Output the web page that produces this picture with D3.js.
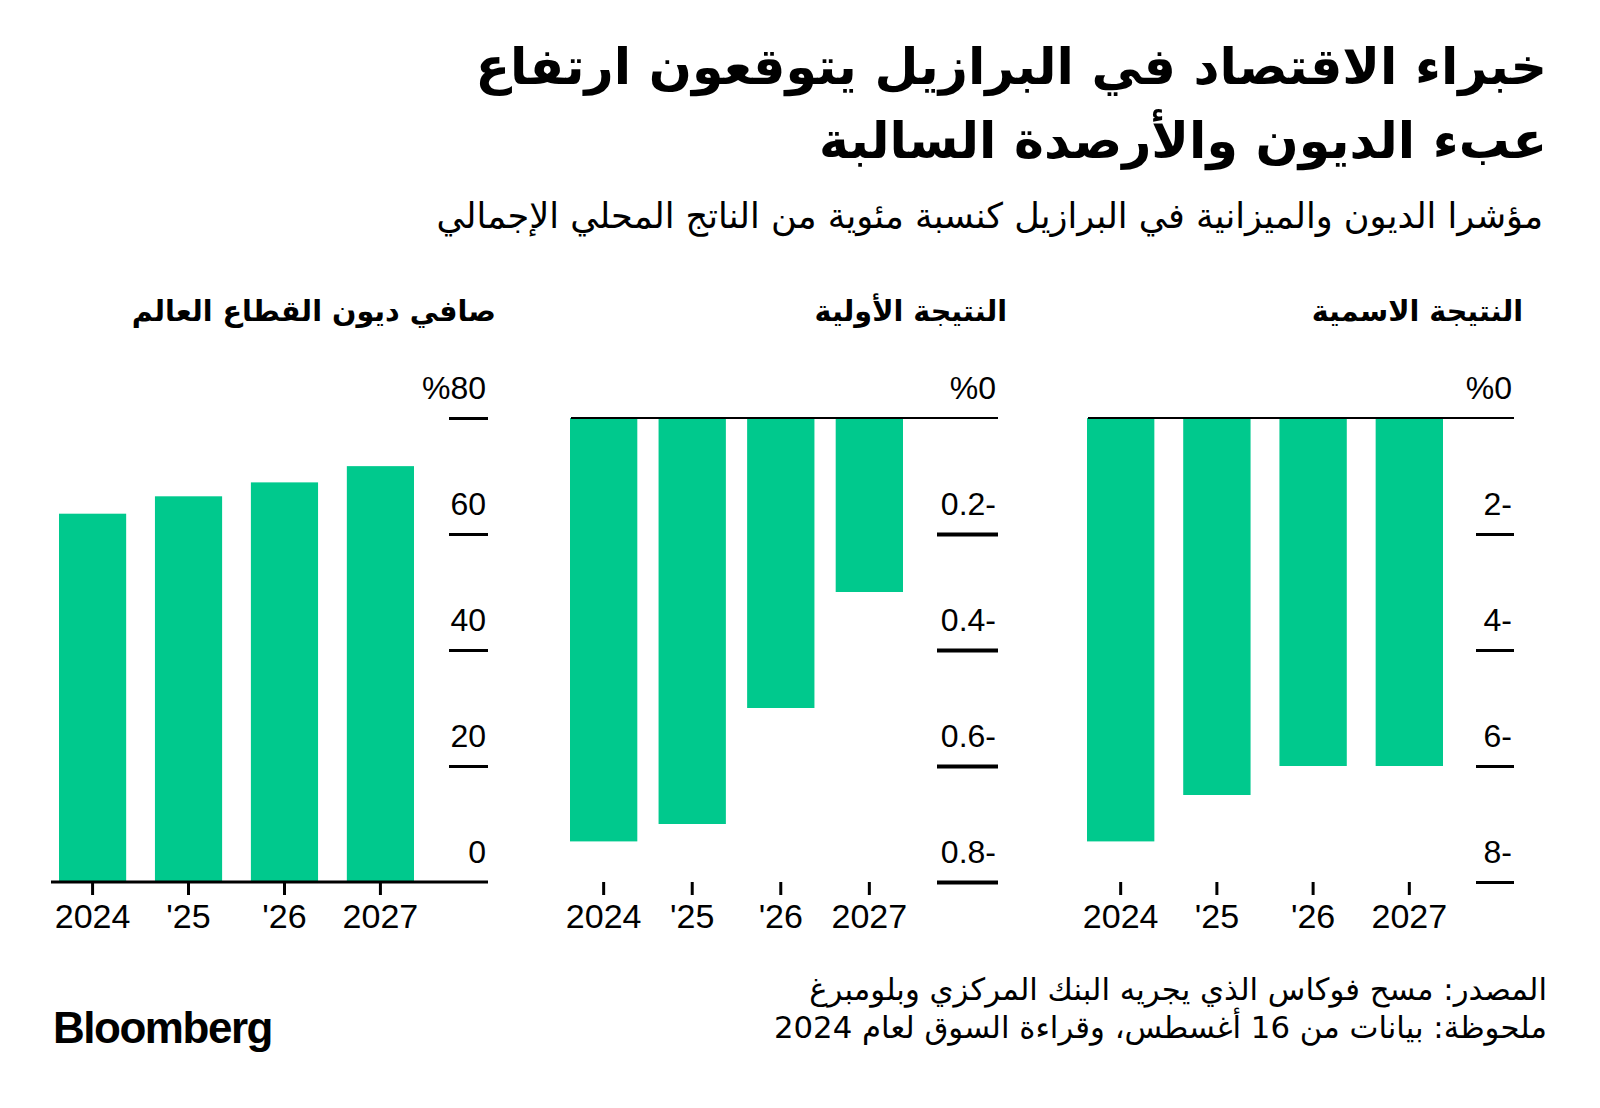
<!DOCTYPE html>
<html><head><meta charset="utf-8">
<script src="https://cdn.jsdelivr.net/npm/d3@7"></script>
<style>
html,body{margin:0;padding:0;background:#fff;}
svg{display:block;}
</style></head><body>
<svg id="chart" width="1600" height="1108"></svg>
<script>
// ---- data ----
const years = ["2024", "'25", "'26", "2027"];
const netDebt = [63.5, 66.5, 68.9, 71.7];
const primaryResult = [-0.73, -0.70, -0.50, -0.30];
const nominalResult = [-7.3, -6.5, -6.0, -6.0];
const debtTicks = [0, 20, 40, 60, 80];
const primaryTicks = [0, -0.2, -0.4, -0.6, -0.8];
const nominalTicks = [0, -2, -4, -6, -8];
const panelTitles = ["صافي ديون القطاع العالم", "النتيجة الأولية", "النتيجة الاسمية"];
const titleLines = ["خبراء الاقتصاد في البرازيل يتوقعون ارتفاع", "عبء الديون والأرصدة السالبة"];
const subtitle = "مؤشرا الديون والميزانية في البرازيل كنسبة مئوية من الناتج المحلي الإجمالي";
const footerLines = ["المصدر: مسح فوكاس الذي يجريه البنك المركزي وبلومبرغ", "ملحوظة: بيانات من 16 أغسطس، وقراءة السوق لعام 2024"];
const logoText = "Bloomberg";

// ---- style / layout ----
const GREEN = "#00c98d";
const AR = "'DejaVu Sans', sans-serif";
const LAT = "'Liberation Sans', Arial, Helvetica, sans-serif";
const svg = d3.select("#chart");

function fmtPct(top) {
  return d => {
    const a = Math.abs(d);
    const s = (Number.isInteger(a) ? String(a) : a.toFixed(1));
    if (d === top) return "%" + s;
    return d < 0 ? s + "-" : s;
  };
}

const panels = [
  {values: netDebt, ticks: debtTicks, domain: [0, 80], top: 80, title: panelTitles[0],
   xRange: [59, 414], padInner: 0.3, axisLeft: 51, axisRight: 488, tickLen: 39, tickW: 3, baseW: 3, titleRight: 496, titleW: 357},
  {values: primaryResult, ticks: primaryTicks, domain: [-0.8, 0], top: 0, title: panelTitles[1],
   xRange: [570, 903], padInner: 0.24, axisLeft: 571, axisRight: 998, tickLen: 61, tickW: 4, baseW: 2, titleRight: 1007, titleW: 194},
  {values: nominalResult, ticks: nominalTicks, domain: [-8, 0], top: 0, title: panelTitles[2],
   xRange: [1087, 1443], padInner: 0.3, axisLeft: 1088, axisRight: 1514, tickLen: 38, tickW: 3, baseW: 2, titleRight: 1523, titleW: 214}
];

const yRange = [882, 418];

panels.forEach(p => {
  const g = svg.append("g");
  const x = d3.scaleBand().domain(years).range(p.xRange).paddingInner(p.padInner).paddingOuter(0);
  const y = d3.scaleLinear().domain(p.domain).range(yRange);

  // bars
  g.selectAll("rect.bar").data(p.values).join("rect")
    .attr("class", "bar")
    .attr("x", (d, i) => x(years[i]))
    .attr("width", x.bandwidth())
    .attr("y", d => Math.min(y(0), y(d)))
    .attr("height", d => Math.abs(y(d) - y(0)))
    .attr("fill", GREEN);

  // y axis (ticks on right side, labels above tick lines)
  const ya = g.append("g").attr("transform", `translate(${p.axisRight},0)`)
    .call(d3.axisLeft(y).tickValues(p.ticks).tickSize(p.tickLen).tickFormat(fmtPct(p.top)));
  ya.select(".domain").remove();
  ya.selectAll(".tick line").attr("stroke", "#000").attr("stroke-width", p.tickW)
    .filter(d => d === 0).remove();
  ya.selectAll(".tick text")
    .attr("x", -2).attr("y", -20).attr("dy", 0)
    .attr("text-anchor", "end")
    .attr("font-family", LAT).attr("font-size", 32).attr("fill", "#000");

  // zero line spanning the panel
  g.append("line")
    .attr("x1", p.axisLeft).attr("x2", p.axisRight)
    .attr("y1", y(0)).attr("y2", y(0))
    .attr("stroke", "#000").attr("stroke-width", p.baseW);

  // x axis
  const xa = g.append("g").attr("transform", `translate(0,${yRange[0]})`)
    .call(d3.axisBottom(x).tickSize(13));
  xa.select(".domain").remove();
  xa.selectAll(".tick line").attr("stroke", "#000").attr("stroke-width", 3);
  xa.selectAll(".tick text").attr("y", 46).attr("dy", 0)
    .attr("font-family", LAT).attr("font-size", 34).attr("fill", "#000");

  p.titleSel = svg.append("text")
    .attr("x", p.titleRight).attr("y", 321)
    .attr("direction", "rtl").attr("text-anchor", "start")
    .attr("font-family", AR).attr("font-weight", "bold").attr("font-size", 26)
    .attr("fill", "#000").text(p.title);
});

// ---- helpers to size/align text ----
function sizeFor(sel, targetW) {
  const fs = parseFloat(sel.attr("font-size"));
  const w = sel.node().getBBox().width;
  return fs * targetW / w;
}
function alignRight(sel, rightX) {
  const bb = sel.node().getBBox();
  sel.attr("x", +sel.attr("x") + (rightX - (bb.x + bb.width)));
}
function alignLeft(sel, leftX) {
  const bb = sel.node().getBBox();
  sel.attr("x", +sel.attr("x") + (leftX - bb.x));
}

// panel titles: shared size
const ptSizes = panels.map(p => sizeFor(p.titleSel, p.titleW));
const ptSize = d3.mean(ptSizes);
panels.forEach(p => { p.titleSel.attr("font-size", ptSize); alignRight(p.titleSel, p.titleRight); });

// main title
const tl = titleLines.map((t, i) => svg.append("text")
  .attr("x", 1547).attr("y", i === 0 ? 84 : 158)
  .attr("direction", "rtl").attr("text-anchor", "start")
  .attr("font-family", AR).attr("font-weight", "bold").attr("font-size", 50)
  .attr("fill", "#000").text(t));
const tSize = sizeFor(tl[0], 1072);
tl.forEach(s => { s.attr("font-size", tSize); alignRight(s, 1547); });

// subtitle
const st = svg.append("text")
  .attr("x", 1543).attr("y", 228)
  .attr("direction", "rtl").attr("text-anchor", "start")
  .attr("font-family", AR).attr("font-size", 30)
  .attr("fill", "#000").text(subtitle);
st.attr("font-size", sizeFor(st, 1107));
alignRight(st, 1543);

// footer
const fl = footerLines.map((t, i) => svg.append("text")
  .attr("x", 1547).attr("y", i === 0 ? 1000 : 1038)
  .attr("direction", "rtl").attr("text-anchor", "start")
  .attr("font-family", AR).attr("font-size", 26)
  .attr("fill", "#000").text(t));
const fSize = sizeFor(fl[0], 738);
fl.forEach(s => { s.attr("font-size", fSize); alignRight(s, 1547); });

// logo
const logo = svg.append("text")
  .attr("x", 53).attr("y", 1043)
  .attr("font-family", LAT).attr("font-weight", "bold").attr("font-size", 45)
  .attr("letter-spacing", -1.5).attr("fill", "#000").text(logoText);
logo.attr("textLength", 219).attr("lengthAdjust", "spacingAndGlyphs");
</script>
</body></html>
